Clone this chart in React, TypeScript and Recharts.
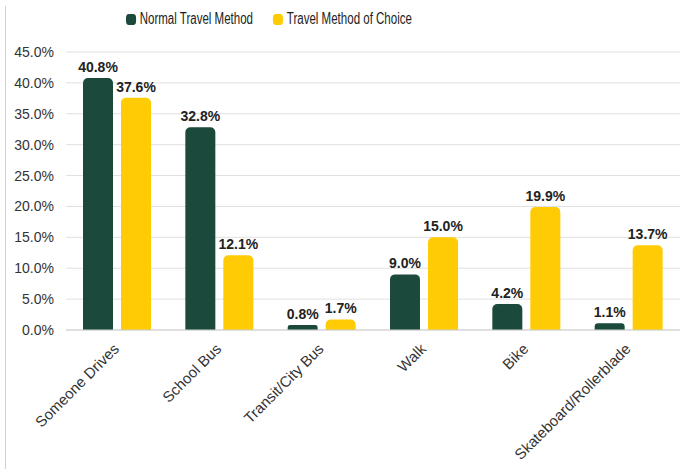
import React from "react";
import { BarChart, Bar, XAxis, YAxis, CartesianGrid, LabelList } from "recharts";

const categories = ["Someone Drives", "School Bus", "Transit/City Bus", "Walk", "Bike", "Skateboard/Rollerblade"];
const normalTravel = [40.8, 32.8, 0.8, 9.0, 4.2, 1.1];
const travelOfChoice = [37.6, 12.1, 1.7, 15.0, 19.9, 13.7];
const yTicks = [0, 5, 10, 15, 20, 25, 30, 35, 40, 45];
const seriesNames = ["Normal Travel Method", "Travel Method of Choice"];
const seriesColors = ["#1b4a3c", "#ffcb05"];

const data = categories.map((name, i) => ({ name, normal: normalTravel[i], choice: travelOfChoice[i] }));

const sans = "'Liberation Sans', Arial, Helvetica, sans-serif";

const XTick = ({ x, y, payload }: any) => (
  <g transform={`translate(${x},${y + 9}) rotate(-45)`}>
    <text x={0} y={0} dy={4} textAnchor="end" fontSize={15} fontFamily={sans} fill="#333">
      {payload.value}
    </text>
  </g>
);

const pct = (v: any) => `${Number(v).toFixed(1)}%`;

export default function App() {
  return (
    <div style={{ position: "absolute", left: 0, top: 0, width: 693, height: 469, background: "#fff" }}>
      <div style={{ position: "absolute", left: 5, top: 6, bottom: 0, borderLeft: "1px solid #d0d0d0" }} />
      <div
        style={{
          position: "absolute",
          top: 10,
          left: 126,
          display: "flex",
          alignItems: "center",
          fontFamily: sans,
          fontSize: 16,
          color: "#222",
          transform: "scaleX(0.72)",
          transformOrigin: "left center",
          whiteSpace: "nowrap",
        }}
      >
        {seriesNames.map((n, i) => (
          <div key={n} style={{ display: "flex", alignItems: "center", marginRight: 28 }}>
            <span style={{ width: 14, height: 11, borderRadius: 4, background: seriesColors[i], marginRight: 5, display: "inline-block" }} />
            <span>{n}</span>
          </div>
        ))}
      </div>
      <BarChart
        width={693}
        height={469}
        data={data}
        margin={{ top: 52, right: 13, left: 0, bottom: 5 }}
        barGap={8}
        barCategoryGap={17}
      >
        <CartesianGrid vertical={false} stroke="#e0e0e0" />
        <XAxis
          dataKey="name"
          interval={0}
          height={134}
          tick={<XTick />}
          tickLine={false}
          axisLine={{ stroke: "#cfcfcf" }}
        />
        <YAxis
          width={66}
          domain={[0, 45]}
          ticks={yTicks}
          tickFormatter={pct}
          tickLine={false}
          axisLine={false}
          tickSize={0}
          tickMargin={12}
          tick={{ fontSize: 14, fontFamily: sans, fill: "#333" }}
        />
        <Bar dataKey="normal" name={seriesNames[0]} fill={seriesColors[0]} radius={[5, 5, 0, 0]} isAnimationActive={false}>
          <LabelList dataKey="normal" position="top" offset={6} formatter={pct} fontSize={14} fontWeight="bold" fontFamily={sans} fill="#222" />
        </Bar>
        <Bar dataKey="choice" name={seriesNames[1]} fill={seriesColors[1]} radius={[5, 5, 0, 0]} isAnimationActive={false}>
          <LabelList dataKey="choice" position="top" offset={6} formatter={pct} fontSize={14} fontWeight="bold" fontFamily={sans} fill="#222" />
        </Bar>
      </BarChart>
    </div>
  );
}
